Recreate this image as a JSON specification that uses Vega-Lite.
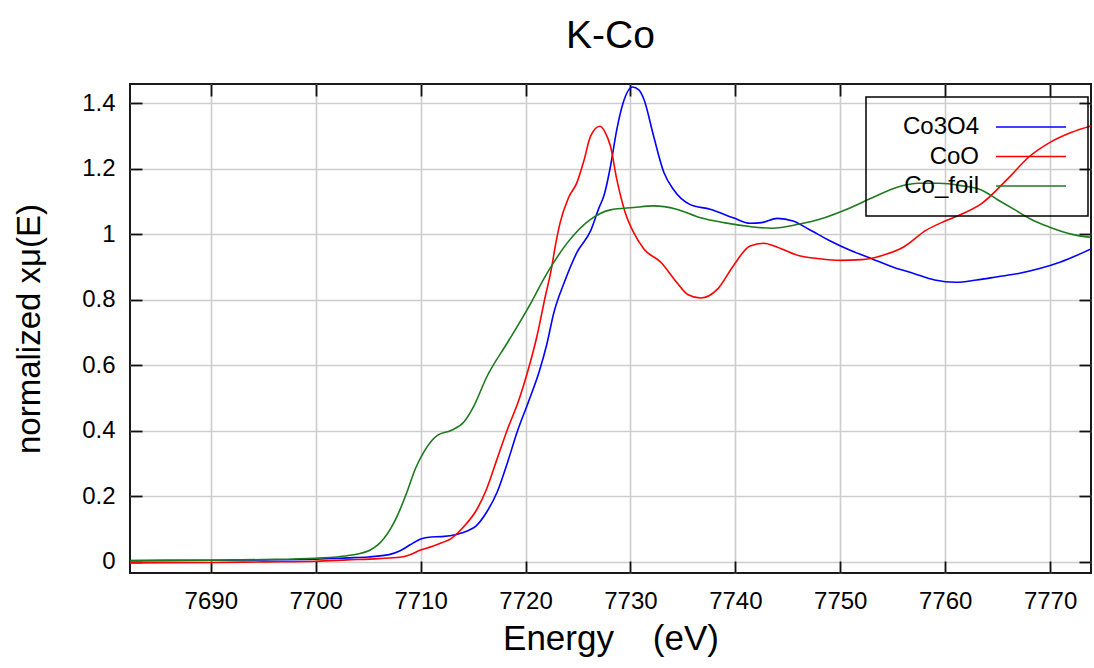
{
  "$schema": "https://vega.github.io/schema/vega-lite/v6.json",
  "width": 961,
  "height": 489,
  "autosize": {"type": "none"},
  "padding": {"left": 130, "top": 84, "right": 3, "bottom": 95},
  "background": "white",
  "title": {
    "text": "K-Co",
    "fontSize": 39,
    "font": "Liberation Sans",
    "fontWeight": "normal",
    "color": "#000",
    "anchor": "middle",
    "baseline": "alphabetic",
    "offset": -4
  },
  "config": {
    "font": "Liberation Sans",
    "view": {"stroke": "#1a1a1a", "strokeWidth": 2},
    "legend": {"strokeWidth": 1.5},
    "axis": {
      "domain": false,
      "tickColor": "#111",
      "tickWidth": 1.8,
      "tickSize": -12,
      "labelColor": "#000",
      "labelFontSize": 24,
      "labelFont": "Liberation Sans",
      "titleColor": "#000",
      "titleFont": "Liberation Sans",
      "titleFontWeight": "normal",
      "gridColor": "#cdcdcd",
      "gridWidth": 1.6,
      "gridOpacity": 1
    }
  },
  "data": {
    "values": [
      {"series": "Co3O4", "energy": 7682.3, "mu": 0.004},
      {"series": "Co3O4", "energy": 7690, "mu": 0.005},
      {"series": "Co3O4", "energy": 7695, "mu": 0.006},
      {"series": "Co3O4", "energy": 7700, "mu": 0.008},
      {"series": "Co3O4", "energy": 7703, "mu": 0.012},
      {"series": "Co3O4", "energy": 7705, "mu": 0.015},
      {"series": "Co3O4", "energy": 7707, "mu": 0.022},
      {"series": "Co3O4", "energy": 7708, "mu": 0.033},
      {"series": "Co3O4", "energy": 7709, "mu": 0.052},
      {"series": "Co3O4", "energy": 7710, "mu": 0.07},
      {"series": "Co3O4", "energy": 7711, "mu": 0.076},
      {"series": "Co3O4", "energy": 7712, "mu": 0.077},
      {"series": "Co3O4", "energy": 7713.5, "mu": 0.084},
      {"series": "Co3O4", "energy": 7714.5, "mu": 0.095},
      {"series": "Co3O4", "energy": 7715.3, "mu": 0.11},
      {"series": "Co3O4", "energy": 7716.3, "mu": 0.152},
      {"series": "Co3O4", "energy": 7717.3, "mu": 0.213},
      {"series": "Co3O4", "energy": 7718.3, "mu": 0.305},
      {"series": "Co3O4", "energy": 7719.2, "mu": 0.396},
      {"series": "Co3O4", "energy": 7720.3, "mu": 0.49},
      {"series": "Co3O4", "energy": 7721.3, "mu": 0.58},
      {"series": "Co3O4", "energy": 7722.0, "mu": 0.66},
      {"series": "Co3O4", "energy": 7722.7, "mu": 0.76},
      {"series": "Co3O4", "energy": 7723.7, "mu": 0.853},
      {"series": "Co3O4", "energy": 7724.9, "mu": 0.944},
      {"series": "Co3O4", "energy": 7726.2, "mu": 1.01},
      {"series": "Co3O4", "energy": 7727.0, "mu": 1.08},
      {"series": "Co3O4", "energy": 7727.5, "mu": 1.12},
      {"series": "Co3O4", "energy": 7728.1, "mu": 1.207},
      {"series": "Co3O4", "energy": 7728.7, "mu": 1.319},
      {"series": "Co3O4", "energy": 7729.3, "mu": 1.40},
      {"series": "Co3O4", "energy": 7730.2, "mu": 1.449},
      {"series": "Co3O4", "energy": 7730.8, "mu": 1.44},
      {"series": "Co3O4", "energy": 7731.3, "mu": 1.41},
      {"series": "Co3O4", "energy": 7732.2, "mu": 1.30},
      {"series": "Co3O4", "energy": 7733.2, "mu": 1.187},
      {"series": "Co3O4", "energy": 7734.1, "mu": 1.136},
      {"series": "Co3O4", "energy": 7735.7, "mu": 1.09},
      {"series": "Co3O4", "energy": 7737.6, "mu": 1.076},
      {"series": "Co3O4", "energy": 7739.8, "mu": 1.05},
      {"series": "Co3O4", "energy": 7741.4, "mu": 1.033},
      {"series": "Co3O4", "energy": 7742.5, "mu": 1.035},
      {"series": "Co3O4", "energy": 7744, "mu": 1.048},
      {"series": "Co3O4", "energy": 7745.5, "mu": 1.04},
      {"series": "Co3O4", "energy": 7747, "mu": 1.015},
      {"series": "Co3O4", "energy": 7749, "mu": 0.98},
      {"series": "Co3O4", "energy": 7751, "mu": 0.95},
      {"series": "Co3O4", "energy": 7753, "mu": 0.925},
      {"series": "Co3O4", "energy": 7755, "mu": 0.9},
      {"series": "Co3O4", "energy": 7757, "mu": 0.88},
      {"series": "Co3O4", "energy": 7759, "mu": 0.86},
      {"series": "Co3O4", "energy": 7761, "mu": 0.853},
      {"series": "Co3O4", "energy": 7763, "mu": 0.86},
      {"series": "Co3O4", "energy": 7765, "mu": 0.87},
      {"series": "Co3O4", "energy": 7767, "mu": 0.88},
      {"series": "Co3O4", "energy": 7769, "mu": 0.895},
      {"series": "Co3O4", "energy": 7771, "mu": 0.915},
      {"series": "Co3O4", "energy": 7773.9, "mu": 0.955},

      {"series": "CoO", "energy": 7682.3, "mu": -0.003},
      {"series": "CoO", "energy": 7690, "mu": -0.002},
      {"series": "CoO", "energy": 7695, "mu": 0.0},
      {"series": "CoO", "energy": 7700, "mu": 0.002},
      {"series": "CoO", "energy": 7703, "mu": 0.006},
      {"series": "CoO", "energy": 7706, "mu": 0.01},
      {"series": "CoO", "energy": 7708, "mu": 0.014},
      {"series": "CoO", "energy": 7709, "mu": 0.022},
      {"series": "CoO", "energy": 7710, "mu": 0.036},
      {"series": "CoO", "energy": 7711, "mu": 0.046},
      {"series": "CoO", "energy": 7712, "mu": 0.058},
      {"series": "CoO", "energy": 7712.9, "mu": 0.071},
      {"series": "CoO", "energy": 7714.1, "mu": 0.107},
      {"series": "CoO", "energy": 7715.4, "mu": 0.162},
      {"series": "CoO", "energy": 7716.3, "mu": 0.223},
      {"series": "CoO", "energy": 7717.3, "mu": 0.315},
      {"series": "CoO", "energy": 7718.3, "mu": 0.406},
      {"series": "CoO", "energy": 7719.4, "mu": 0.497},
      {"series": "CoO", "energy": 7720.2, "mu": 0.58},
      {"series": "CoO", "energy": 7721.1, "mu": 0.69},
      {"series": "CoO", "energy": 7721.9, "mu": 0.812},
      {"series": "CoO", "energy": 7722.4, "mu": 0.883},
      {"series": "CoO", "energy": 7722.9, "mu": 0.974},
      {"series": "CoO", "energy": 7723.3, "mu": 1.035},
      {"series": "CoO", "energy": 7724.1, "mu": 1.111},
      {"series": "CoO", "energy": 7724.9, "mu": 1.157},
      {"series": "CoO", "energy": 7725.6, "mu": 1.228},
      {"series": "CoO", "energy": 7726.2, "mu": 1.299},
      {"series": "CoO", "energy": 7727.1, "mu": 1.329},
      {"series": "CoO", "energy": 7727.6, "mu": 1.31},
      {"series": "CoO", "energy": 7728.1, "mu": 1.268},
      {"series": "CoO", "energy": 7728.7, "mu": 1.167},
      {"series": "CoO", "energy": 7729.5, "mu": 1.066},
      {"series": "CoO", "energy": 7730.3, "mu": 1.005},
      {"series": "CoO", "energy": 7731.3, "mu": 0.954},
      {"series": "CoO", "energy": 7732.9, "mu": 0.914},
      {"series": "CoO", "energy": 7734.4, "mu": 0.853},
      {"series": "CoO", "energy": 7735.5, "mu": 0.815},
      {"series": "CoO", "energy": 7736.7, "mu": 0.805},
      {"series": "CoO", "energy": 7738.3, "mu": 0.832},
      {"series": "CoO", "energy": 7739.8, "mu": 0.903},
      {"series": "CoO", "energy": 7741.4, "mu": 0.964},
      {"series": "CoO", "energy": 7742.7, "mu": 0.972},
      {"series": "CoO", "energy": 7744, "mu": 0.96},
      {"series": "CoO", "energy": 7746, "mu": 0.935},
      {"series": "CoO", "energy": 7748, "mu": 0.925},
      {"series": "CoO", "energy": 7750, "mu": 0.92},
      {"series": "CoO", "energy": 7752, "mu": 0.922},
      {"series": "CoO", "energy": 7754, "mu": 0.935},
      {"series": "CoO", "energy": 7756, "mu": 0.96},
      {"series": "CoO", "energy": 7758.2, "mu": 1.012},
      {"series": "CoO", "energy": 7760, "mu": 1.04},
      {"series": "CoO", "energy": 7761.5, "mu": 1.06},
      {"series": "CoO", "energy": 7763.5, "mu": 1.094},
      {"series": "CoO", "energy": 7766, "mu": 1.17},
      {"series": "CoO", "energy": 7768, "mu": 1.236},
      {"series": "CoO", "energy": 7770, "mu": 1.28},
      {"series": "CoO", "energy": 7772, "mu": 1.31},
      {"series": "CoO", "energy": 7773.9, "mu": 1.33},

      {"series": "Co_foil", "energy": 7682.3, "mu": 0.003},
      {"series": "Co_foil", "energy": 7690, "mu": 0.005},
      {"series": "Co_foil", "energy": 7695, "mu": 0.007},
      {"series": "Co_foil", "energy": 7700, "mu": 0.011},
      {"series": "Co_foil", "energy": 7702, "mu": 0.015},
      {"series": "Co_foil", "energy": 7703.3, "mu": 0.02},
      {"series": "Co_foil", "energy": 7705.2, "mu": 0.036},
      {"series": "Co_foil", "energy": 7706.5, "mu": 0.071},
      {"series": "Co_foil", "energy": 7707.8, "mu": 0.142},
      {"series": "Co_foil", "energy": 7708.7, "mu": 0.213},
      {"series": "Co_foil", "energy": 7709.5, "mu": 0.284},
      {"series": "Co_foil", "energy": 7710.3, "mu": 0.335},
      {"series": "Co_foil", "energy": 7711.6, "mu": 0.386},
      {"series": "Co_foil", "energy": 7712.9, "mu": 0.401},
      {"series": "Co_foil", "energy": 7714.1, "mu": 0.426},
      {"series": "Co_foil", "energy": 7715.1, "mu": 0.477},
      {"series": "Co_foil", "energy": 7716.3, "mu": 0.564},
      {"series": "Co_foil", "energy": 7718.3, "mu": 0.67},
      {"series": "Co_foil", "energy": 7720.2, "mu": 0.772},
      {"series": "Co_foil", "energy": 7722.1, "mu": 0.883},
      {"series": "Co_foil", "energy": 7724.0, "mu": 0.974},
      {"series": "Co_foil", "energy": 7726.2, "mu": 1.045},
      {"series": "Co_foil", "energy": 7728.1, "mu": 1.074},
      {"series": "Co_foil", "energy": 7730.3, "mu": 1.081},
      {"series": "Co_foil", "energy": 7732.2, "mu": 1.086},
      {"series": "Co_foil", "energy": 7734.4, "mu": 1.076},
      {"series": "Co_foil", "energy": 7736.7, "mu": 1.05},
      {"series": "Co_foil", "energy": 7738.9, "mu": 1.035},
      {"series": "Co_foil", "energy": 7741.4, "mu": 1.023},
      {"series": "Co_foil", "energy": 7743.5, "mu": 1.018},
      {"series": "Co_foil", "energy": 7746, "mu": 1.03},
      {"series": "Co_foil", "energy": 7748.5, "mu": 1.05},
      {"series": "Co_foil", "energy": 7750.8, "mu": 1.078},
      {"series": "Co_foil", "energy": 7753, "mu": 1.11},
      {"series": "Co_foil", "energy": 7755.5, "mu": 1.144},
      {"series": "Co_foil", "energy": 7757.5, "mu": 1.155},
      {"series": "Co_foil", "energy": 7759.4, "mu": 1.155},
      {"series": "Co_foil", "energy": 7761.5, "mu": 1.148},
      {"series": "Co_foil", "energy": 7763.5, "mu": 1.134},
      {"series": "Co_foil", "energy": 7765, "mu": 1.105},
      {"series": "Co_foil", "energy": 7766.7, "mu": 1.073},
      {"series": "Co_foil", "energy": 7768.5, "mu": 1.04},
      {"series": "Co_foil", "energy": 7769.9, "mu": 1.022},
      {"series": "Co_foil", "energy": 7772, "mu": 1.0},
      {"series": "Co_foil", "energy": 7773.9, "mu": 0.99}
    ]
  },
  "layer": [
    {
      "mark": {"type": "line", "interpolate": "monotone", "strokeWidth": 1.6, "clip": true},
      "encoding": {
        "x": {
          "field": "energy",
          "type": "quantitative",
          "scale": {"domain": [7682.3, 7773.9], "nice": false, "zero": false},
          "axis": {
            "orient": "bottom",
            "title": "Energy\u00a0\u00a0\u00a0\u00a0(eV)",
            "titleFontSize": 35,
            "titlePadding": 8,
            "values": [7690, 7700, 7710, 7720, 7730, 7740, 7750, 7760, 7770],
            "format": "d",
            "labelPadding": 28,
            "grid": true
          }
        },
        "y": {
          "field": "mu",
          "type": "quantitative",
          "scale": {"domain": [-0.034, 1.458], "nice": false, "zero": false},
          "axis": {
            "orient": "left",
            "title": "normalized xμ(E)",
            "titleFontSize": 33,
            "titlePadding": 35,
            "values": [0, 0.2, 0.4, 0.6, 0.8, 1, 1.2, 1.4],
            "format": "~g",
            "labelPadding": 27,
            "grid": true
          }
        },
        "color": {
          "field": "series",
          "type": "nominal",
          "sort": null,
          "scale": {
            "domain": ["Co3O4", "CoO", "Co_foil"],
            "range": ["#0000ff", "#ff0000", "#1e7a1e"]
          },
          "legend": {
            "orient": "none",
            "legendX": 736,
            "legendY": 13,
            "title": null,
            "padding": 18,
            "strokeColor": "#000",
            "symbolType": "M-4,0H4",
            "symbolSize": 306,
            "symbolStrokeWidth": 1.6,
            "symbolOffset": 135,
            "labelAlign": "right",
            "labelOffset": -64,
            "labelFontSize": 24,
            "labelColor": "#000",
            "labelFont": "Liberation Sans",
            "rowPadding": 5.5
          }
        }
      }
    },
    {
      "mark": {"type": "line", "strokeOpacity": 0, "clip": true},
      "encoding": {
        "x": {
          "field": "energy",
          "type": "quantitative",
          "axis": {
            "orient": "top",
            "title": null,
            "labels": false,
            "grid": false,
            "values": [7690, 7700, 7710, 7720, 7730, 7740, 7750, 7760, 7770]
          }
        },
        "y": {
          "field": "mu",
          "type": "quantitative",
          "axis": {
            "orient": "right",
            "title": null,
            "labels": false,
            "grid": false,
            "values": [0, 0.2, 0.4, 0.6, 0.8, 1, 1.2, 1.4]
          }
        },
        "detail": {"field": "series", "type": "nominal"}
      }
    }
  ],
  "resolve": {"axis": {"x": "independent", "y": "independent"}}
}
